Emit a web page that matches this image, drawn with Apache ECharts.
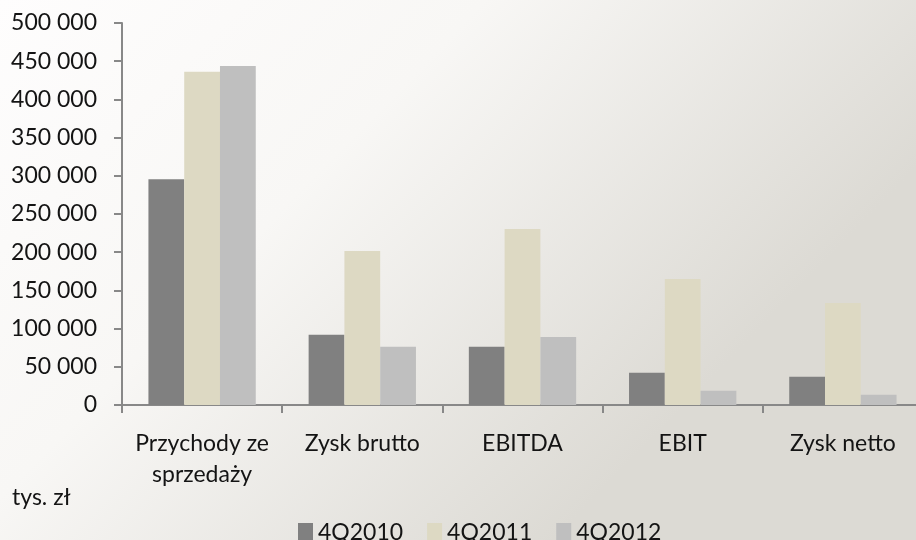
<!DOCTYPE html>
<html>
<head>
    <meta charset="utf-8">
    <title> ECharts </title>
    <script src="https://cdn.jsdelivr.net/npm/echarts@6/dist/echarts.min.js"></script>
    <style>
        html, body { margin: 0; padding: 0; overflow: hidden; }
    </style>
</head>
<body>

<!-- a bit wider than the window: the original plot is cut at the right edge -->
<div id='graph_1' style='width: 923px;height:540px;'></div>
<script language='javascript' type='text/javascript'>
    // values in tys. zl
    var categories = ['Przychody ze\nsprzedaży', 'Zysk brutto', 'EBITDA', 'EBIT', 'Zysk netto'];
    var q2010 = [295500, 92000, 76300, 42300, 37000];
    var q2011 = [436300, 201600, 230400, 164900, 133500];
    var q2012 = [443700, 76300, 89000, 18700, 13500];
    var series_names = ['4Q2010', '4Q2011', '4Q2012'];
    var colors = ['#808080', '#ddd9c3', '#bfbfbf'];

    var font = 'Lato, "Noto Sans", sans-serif';
    var txt = '#141414';

    function fmt(v) {
        return String(v).replace(/\B(?=(\d{3})+(?!\d))/g, ' ');
    }

    var x = document.getElementById('graph_1');
    var myChart = echarts.init(x, null, {renderer: 'canvas'});
    var option = {
        backgroundColor: {
            type: 'linear', x: 0, y: 0, x2: 0.6, y2: 1,
            colorStops: [
                {offset: 0, color: '#fefdfd'},
                {offset: 0.45, color: '#f8f7f5'},
                {offset: 1, color: '#dcdad4'}
            ]
        },
        color: colors,
        textStyle: {fontFamily: font},
        animation: false,
        legend: {
            left: 293, top: 516,
            itemWidth: 15, itemHeight: 19, itemGap: 24,
            icon: 'rect',
            textStyle: {fontSize: 23, color: txt, fontFamily: font},
            data: series_names
        },
        graphic: [{
            type: 'text', left: 12, top: 486,
            style: {text: 'tys. zł', fontSize: 23, fill: txt, fontFamily: font}
        }],
        grid: {left: 122, top: 23, bottom: 135, right: 0},
        xAxis: {
            type: 'category',
            data: categories,
            axisLine: {lineStyle: {color: '#888888', width: 2}},
            axisTick: {show: true, length: 8, lineStyle: {color: '#888888', width: 2}},
            axisLabel: {interval: 0, fontSize: 23, color: txt, margin: 23, lineHeight: 31, fontFamily: font},
            splitLine: {show: false}
        },
        yAxis: {
            type: 'value', min: 0, max: 500000, interval: 50000,
            axisLine: {show: true, lineStyle: {color: '#888888', width: 2}},
            axisTick: {show: true, length: 8, lineStyle: {color: '#888888', width: 2}},
            axisLabel: {fontSize: 23, color: txt, margin: 25, fontFamily: font, formatter: fmt},
            splitLine: {show: false}
        },
        series: [
            {name: series_names[0], type: 'bar', data: q2010, barGap: 0, barCategoryGap: '33%'},
            {name: series_names[1], type: 'bar', data: q2011, barGap: 0, barCategoryGap: '33%'},
            {name: series_names[2], type: 'bar', data: q2012, barGap: 0, barCategoryGap: '33%'}
        ]
    };

    myChart.setOption(option);
</script>
</body>
</html>
